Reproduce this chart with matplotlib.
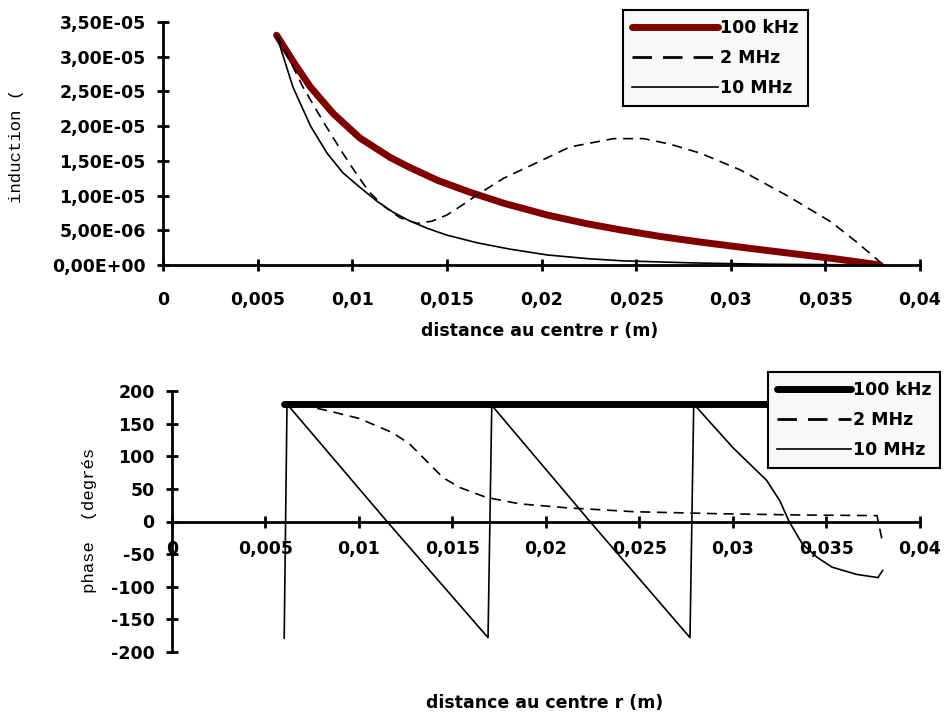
import matplotlib
matplotlib.use("Agg")
import matplotlib.pyplot as plt
from matplotlib.ticker import FuncFormatter, MultipleLocator

# --- induction (top) ---
r_100k = [0.006, 0.007, 0.0078, 0.009, 0.0104, 0.012, 0.013, 0.0145, 0.0162, 0.018,
          0.0203, 0.0223, 0.0243, 0.0263, 0.0284, 0.031, 0.0331, 0.0355, 0.0379]
b_100k = [3.31e-5, 2.88e-5, 2.56e-5, 2.18e-5, 1.83e-5, 1.55e-5, 1.41e-5, 1.22e-5,
          1.05e-5, 8.9e-6, 7.2e-6, 6.0e-6, 5.0e-6, 4.1e-6, 3.3e-6, 2.4e-6, 1.7e-6,
          9e-7, 0.0]

r_2m = [0.006, 0.0067, 0.0074, 0.0085, 0.0095, 0.0102, 0.0109, 0.0117, 0.01253,
        0.01342, 0.0142, 0.015, 0.0158, 0.0166, 0.018, 0.0198, 0.0215, 0.0238,
        0.0254, 0.0268, 0.0284, 0.0305, 0.0331, 0.0353, 0.0367, 0.0379]
b_2m = [3.31e-5, 2.95e-5, 2.56e-5, 2.05e-5, 1.61e-5, 1.32e-5, 1.05e-5, 8.4e-6,
        6.8e-6, 6.0e-6, 6.3e-6, 7.2e-6, 8.6e-6, 1.01e-5, 1.25e-5, 1.48e-5, 1.70e-5,
        1.82e-5, 1.82e-5, 1.74e-5, 1.61e-5, 1.37e-5, 9.8e-6, 6.2e-6, 3.2e-6, 4e-7]

r_10m = [0.006, 0.00687, 0.0078, 0.00867, 0.0095, 0.0104, 0.0113, 0.01216, 0.013,
         0.01395, 0.015, 0.0166, 0.0183, 0.0203, 0.0225, 0.0243, 0.028, 0.032, 0.038]
b_10m = [3.31e-5, 2.56e-5, 2.0e-5, 1.61e-5, 1.33e-5, 1.12e-5, 9.2e-6, 7.6e-6, 6.4e-6,
         5.3e-6, 4.3e-6, 3.2e-6, 2.3e-6, 1.45e-6, 9e-7, 6e-7, 3e-7, 1e-7, 0.0]

# --- phase (bottom) ---
p_r_100k = [0.006, 0.038]
p_100k = [180, 180]

p_r_2m = [0.006, 0.0072, 0.0083, 0.010, 0.0118, 0.0127, 0.0136, 0.0145, 0.0154,
          0.0168, 0.0186, 0.0211, 0.0247, 0.0291, 0.0335, 0.0377, 0.038]
p_2m = [180, 177, 170, 158, 136, 119, 93, 67, 52, 37, 27, 21, 15, 12, 10, 9, -32]

p_r_10m = [0.006, 0.00615, 0.0115, 0.0169, 0.0171, 0.02235, 0.0277, 0.0279, 0.030,
           0.0318, 0.0325, 0.033, 0.0337, 0.0345, 0.0353, 0.0366, 0.03775, 0.038]
p_10m = [-179, 180, 0, -178, 178, 0, -178, 180, 113, 63, 32, 0, -34, -55, -70, -81,
         -86, -75]

labels = ["100 kHz", "2 MHz", "10 MHz"]
x_ticks = [0, 0.005, 0.01, 0.015, 0.02, 0.025, 0.03, 0.035, 0.04]

tick_font = dict(family="DejaVu Sans", weight="bold", size=12.5)
mono_font = dict(family="Liberation Mono", size=12.5)


def comma_num(v, pos):
    if abs(v) < 1e-12:
        return "0"
    return ("%g" % v).replace(".", ",")


def sci_comma(v, pos):
    return ("%.2E" % v).replace(".", ",")


def style_axes(ax):
    for side in ["top", "right"]:
        ax.spines[side].set_visible(False)
    for side in ["left", "bottom"]:
        ax.spines[side].set_linewidth(2)
    ax.tick_params(direction="inout", length=9, width=2)
    for lab in ax.get_xticklabels() + ax.get_yticklabels():
        lab.set_fontfamily(tick_font["family"])
        lab.set_fontweight(tick_font["weight"])
        lab.set_fontsize(tick_font["size"])


def add_legend(fig, handles, anchor, hlen):
    leg = fig.legend(handles, labels, loc="upper left", bbox_to_anchor=anchor,
                     borderaxespad=0, prop=tick_font, handlelength=hlen,
                     handletextpad=0.1, labelspacing=0.7, borderpad=0.5,
                     fancybox=False, framealpha=1, facecolor="#f8f8f8",
                     edgecolor="black")
    leg.get_frame().set_linewidth(1.5)
    leg.legend_handles[1].set_dashes((7, 4))
    leg.legend_handles[1].set_linewidth(2)
    return leg


fig = plt.figure(figsize=(9.45, 7.13), dpi=100)

# top chart
ax1 = fig.add_axes([163 / 945, 1 - 265 / 713, (920 - 163) / 945, (265 - 22) / 713])
h1, = ax1.plot(r_100k, b_100k, color="#800000", lw=5, solid_capstyle="round", zorder=2)
h2, = ax1.plot(r_2m, b_2m, color="black", lw=1.2, dashes=(6, 4), zorder=3)
h3, = ax1.plot(r_10m, b_10m, color="black", lw=1.2, zorder=3)
ax1.set_xlim(0, 0.04)
ax1.set_ylim(0, 3.5e-5)
ax1.set_xticks(x_ticks)
ax1.yaxis.set_major_locator(MultipleLocator(5e-6))
ax1.xaxis.set_major_formatter(FuncFormatter(comma_num))
ax1.yaxis.set_major_formatter(FuncFormatter(sci_comma))
ax1.tick_params(axis="x", pad=14)
ax1.tick_params(axis="y", pad=8)
style_axes(ax1)

fig.text(17 / 945, 1 - 146 / 713, "induction (", rotation=90, ha="center", va="center",
         **mono_font)
fig.text(540 / 945, 1 - 331 / 713, "distance au centre r (m)", ha="center", va="center",
         **tick_font)

add_legend(fig, [h1, h2, h3], (623 / 945, 1 - 10 / 713), 5.0)

# bottom chart
ax2 = fig.add_axes([172 / 945, 1 - 652 / 713, (920 - 172) / 945, (652 - 391) / 713])
g1, = ax2.plot(p_r_100k, p_100k, color="black", lw=5, solid_capstyle="round", zorder=2)
g2, = ax2.plot(p_r_2m, p_2m, color="black", lw=1.2, dashes=(6, 4), zorder=3)
g3, = ax2.plot(p_r_10m, p_10m, color="black", lw=1.2, zorder=3)
ax2.set_xlim(0, 0.04)
ax2.set_ylim(-200, 200)
ax2.set_xticks(x_ticks)
ax2.yaxis.set_major_locator(MultipleLocator(50))
ax2.xaxis.set_major_formatter(FuncFormatter(comma_num))
ax2.yaxis.set_major_formatter(FuncFormatter(lambda v, p: "%d" % v))
ax2.spines["bottom"].set_position(("data", 0))
ax2.tick_params(axis="x", pad=9)
ax2.tick_params(axis="y", pad=8)
style_axes(ax2)

fig.text(90 / 945, 1 - 520 / 713, "phase  (degrés", rotation=90, ha="center", va="center",
         **mono_font)
fig.text(545 / 945, 1 - 703 / 713, "distance au centre r (m)", ha="center", va="center",
         **tick_font)

add_legend(fig, [g1, g2, g3], (768 / 945, 1 - 372 / 713), 4.3)

fig.savefig("out.png", dpi=100)
